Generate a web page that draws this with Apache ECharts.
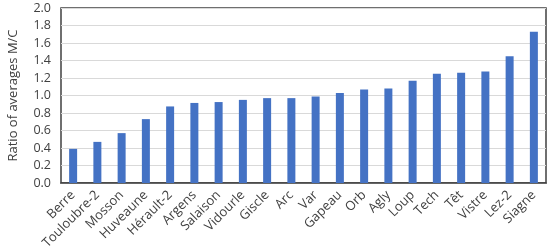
<!DOCTYPE html>
<html><head><meta charset="utf-8">
<script src="https://cdn.jsdelivr.net/npm/echarts@6/dist/echarts.min.js"></script>
<style>html,body{margin:0;padding:0;background:#fff}#c{width:550px;height:251px}</style>
</head><body><div id="c"></div>
<script>
const categories = ["Berre","Touloubre-2","Mosson","Huveaune","Hérault-2","Argens","Salaison","Vidourle","Giscle","Arc","Var","Gapeau","Orb","Agly","Loup","Tech","Têt","Vistre","Lez-2","Siagne"];
const ratioValues = [0.39,0.47,0.57,0.73,0.875,0.915,0.925,0.95,0.97,0.97,0.99,1.03,1.07,1.08,1.17,1.25,1.26,1.275,1.45,1.73];
const yTitle = "Ratio of averages M/C";
const FONT = "Open Sans";
const chart = echarts.init(document.getElementById('c'));
chart.setOption({
  animation:false,
  textStyle:{fontFamily:FONT},
  grid:{left:61,right:4,top:8,bottom:68,outerBoundsMode:'none',containLabel:false,show:true,borderColor:'#404040',borderWidth:1.5,backgroundColor:'transparent'},
  xAxis:{type:'category',data:categories,
    axisLine:{show:true,lineStyle:{color:'#404040',width:1.5}},
    axisTick:{show:false},
    axisLabel:{rotate:45,fontSize:13,color:'#404040',fontFamily:FONT,interval:0,margin:10}},
  yAxis:{type:'value',min:0,max:2,interval:0.2,
    name:yTitle,nameLocation:'middle',nameGap:41,nameTextStyle:{fontSize:13,color:'#404040',fontFamily:FONT},
    axisLine:{show:false},axisTick:{show:false},
    splitLine:{lineStyle:{color:'#d9d9d9',width:1}},
    axisLabel:{fontSize:12.5,color:'#404040',fontFamily:FONT,margin:10,formatter:v=>v.toFixed(1)}},
  series:[{type:'bar',data:ratioValues,barWidth:8,itemStyle:{color:'#4472C4'}}]
});
</script></body></html>
